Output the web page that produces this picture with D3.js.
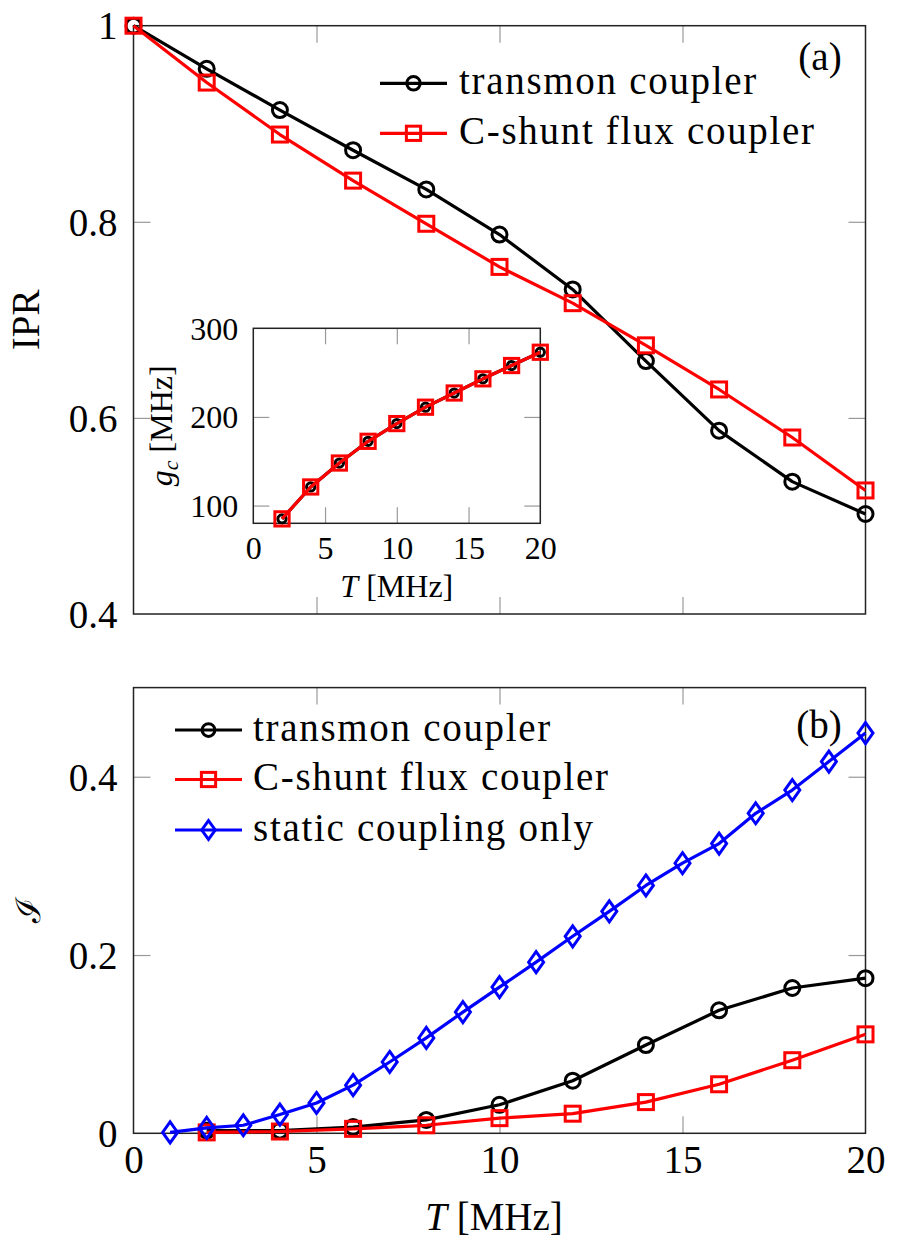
<!DOCTYPE html>
<html><head><meta charset="utf-8">
<script src="https://cdn.jsdelivr.net/npm/d3@7"></script>
<style>
html,body{margin:0;padding:0;background:#fff;}
svg{display:block;}
text{font-family:"Liberation Serif","Times New Roman",serif;fill:#000;}
</style></head>
<body>
<svg id="chart" width="899" height="1255"></svg>
<script>
// ---------- DATA ----------
const tA = [0,2,4,6,8,10,12,14,16,18,20];
const iprTransmon = [1.0,0.956,0.914,0.873,0.833,0.787,0.731,0.658,0.587,0.535,0.502];
const iprCshunt   = [1.0,0.942,0.889,0.842,0.798,0.754,0.717,0.674,0.629,0.580,0.526];

const tInset = [2,4,6,8,10,12,14,16,18,20];
const gcTransmon = [85,121,148,172.5,192.5,211,227,243,258,273];
const gcCshunt   = [85,121,148,172.5,192.5,211,227,243,258,273];

const tB = [2,4,6,8,10,12,14,16,18,20];
const infTransmon = [0.003,0.003,0.007,0.015,0.032,0.059,0.099,0.138,0.163,0.174];
const infCshunt   = [0.001,0.002,0.005,0.009,0.017,0.022,0.035,0.055,0.082,0.111];
const tStatic = [1,2,3,4,5,6,7,8,9,10,11,12,13,14,15,16,17,18,19,20];
const infStatic = [0.001,0.006,0.009,0.021,0.034,0.054,0.080,0.107,0.136,0.164,0.192,0.221,0.249,0.278,0.303,0.325,0.359,0.385,0.417,0.449];

const xTicks = [0,5,10,15,20];
const yTicksA = [0.4,0.6,0.8,1];
const yTicksB = [0,0.2,0.4];
const xTicksInset = [0,5,10,15,20];
const yTicksInset = [100,200,300];

const legendA = ["transmon coupler","C-shunt flux coupler"];
const legendB = ["transmon coupler","C-shunt flux coupler","static coupling only"];
const colors = {transmon:"#000000", cshunt:"#ff0000", stat:"#0000ff"};

// ---------- SETUP ----------
const svg = d3.select("#chart");
const FS = 39, FSI = 32;
const LW = 3.2, MW = 3;

const xA = d3.scaleLinear().domain([0,20]).range([133.5,865.5]);
const yA = d3.scaleLinear().domain([0.4,1]).range([614,25.7]);
const xB = d3.scaleLinear().domain([0,20]).range([133.5,865.5]);
const yB = d3.scaleLinear().domain([0,0.5]).range([1133.3,687.6]);
const xI = d3.scaleLinear().domain([0,20]).range([253.3,540.3]);
const yI = d3.scaleLinear().domain([80,300]).range([523.3,328.3]);

function fmt(v){ return v===0?"0":(v===1?"1":d3.format("")(v)); }

function frame(g, x, y, opts){
  const [x0,x1] = x.range(), [y0,y1] = y.range();
  const tl = opts.tickLen;
  if(opts.fill) g.append("rect").attr("x",x0).attr("y",y1).attr("width",x1-x0).attr("height",y0-y1).attr("fill","#fff");
  const bx = g.append("g").attr("transform",`translate(0,${y0})`)
    .call(d3.axisBottom(x).tickValues(opts.xt).tickSizeInner(-tl).tickSizeOuter(0).tickPadding(0)
      .tickFormat(opts.xLabels? fmt : ""));
  const tx = g.append("g").attr("transform",`translate(0,${y1})`)
    .call(d3.axisTop(x).tickValues(opts.xt).tickSizeInner(-tl).tickSizeOuter(0).tickFormat(""));
  const ly = g.append("g").attr("transform",`translate(${x0},0)`)
    .call(d3.axisLeft(y).tickValues(opts.yt).tickSizeInner(-tl).tickSizeOuter(0).tickPadding(opts.yPad).tickFormat(fmt));
  const ry = g.append("g").attr("transform",`translate(${x1},0)`)
    .call(d3.axisRight(y).tickValues(opts.yt).tickSizeInner(-tl).tickSizeOuter(0).tickFormat(""));
  [bx,tx,ly,ry].forEach(a=>{
    a.select(".domain").remove();
    a.selectAll(".tick line").attr("stroke","#999").attr("stroke-width",1.2);
    a.selectAll(".tick text").attr("font-family",'"Liberation Serif",serif').attr("font-size",opts.fs).attr("fill","#000");
  });
  [bx,tx].forEach(a=>a.selectAll(".tick").filter(d=>d===x.domain()[0]||d===x.domain()[1]).select("line").remove());
  [ly,ry].forEach(a=>a.selectAll(".tick").filter(d=>d===y.domain()[0]||d===y.domain()[1]).select("line").remove());
  bx.selectAll(".tick text").attr("y",opts.xLabY).attr("dy",null);
  ly.selectAll(".tick text").attr("dy","0.34em");
  g.append("rect").attr("x",x0).attr("y",y1).attr("width",x1-x0).attr("height",y0-y1)
    .attr("fill","none").attr("stroke","#222").attr("stroke-width",1.5);
}

function marker(g, type, cx, cy, color, s){
  s = s||1;
  if(type==="circle"){
    g.append("circle").attr("cx",cx).attr("cy",cy).attr("r",7.5*s)
      .attr("fill","none").attr("stroke",color).attr("stroke-width",MW);
  } else if(type==="square"){
    const h=7.5*s;
    g.append("rect").attr("x",cx-h).attr("y",cy-h).attr("width",2*h).attr("height",2*h)
      .attr("fill","none").attr("stroke",color).attr("stroke-width",MW);
  } else {
    const w=7.5*s, hh=10.5*s;
    g.append("path").attr("d",`M${cx},${cy-hh}L${cx+w},${cy}L${cx},${cy+hh}L${cx-w},${cy}Z`)
      .attr("fill","none").attr("stroke",color).attr("stroke-width",MW);
  }
}

function series(g, xs, ys, x, y, color, type, s){
  const pts = xs.map((t,i)=>[x(t), y(ys[i])]);
  g.append("path").attr("d",d3.line()(pts)).attr("fill","none")
    .attr("stroke",color).attr("stroke-width",LW).attr("stroke-linejoin","round");
  pts.forEach(p=>marker(g,type,p[0],p[1],color,s));
}

function legend(g, items, x0, yRows, textX){
  items.forEach((it,i)=>{
    const yy = yRows[i];
    g.append("line").attr("x1",x0).attr("x2",x0+67).attr("y1",yy).attr("y2",yy)
      .attr("stroke",it.color).attr("stroke-width",LW);
    marker(g,it.type,x0+33.5,yy,it.color,it.s||1);
    g.append("text").attr("x",textX).attr("y",yy+10.5).attr("font-size",FS)
      .attr("letter-spacing","1.7px").text(it.label);
  });
}

// ---------- PANEL (a) ----------
const gA = svg.append("g");
frame(gA, xA, yA, {xt:xTicks, yt:yTicksA, tickLen:17, xLabels:false, yPad:16, fs:FS, xLabY:0});
series(gA, tA, iprTransmon, xA, yA, colors.transmon, "circle");
series(gA, tA, iprCshunt, xA, yA, colors.cshunt, "square");
legend(gA, [
  {label:legendA[0], color:colors.transmon, type:"circle", s:0.9},
  {label:legendA[1], color:colors.cshunt, type:"square", s:0.95}
], 380, [83.3,133.3], 459);
gA.append("text").attr("x",820).attr("y",70).attr("text-anchor","middle").attr("font-size",FS).text("(a)");
gA.append("text").attr("transform",`translate(39,${(yA.range()[0]+yA.range()[1])/2}) rotate(-90)`)
  .attr("text-anchor","middle").attr("font-size",FS).text("IPR");

// ---------- INSET ----------
const gI = svg.append("g");
frame(gI, xI, yI, {xt:xTicksInset, yt:yTicksInset, tickLen:16, xLabels:true, yPad:15, fs:FSI, xLabY:36, fill:true});
series(gI, tInset, gcTransmon, xI, yI, colors.transmon, "circle", 0.55);
series(gI, tInset, gcCshunt, xI, yI, colors.cshunt, "square", 0.95);
const iLab = gI.append("text").attr("x",(xI.range()[0]+xI.range()[1])/2).attr("y",597).attr("text-anchor","middle").attr("font-size",FSI);
iLab.append("tspan").attr("font-style","italic").text("T");
iLab.append("tspan").text(" [MHz]");
const gLab = gI.append("text").attr("transform",`translate(172,${(yI.range()[0]+yI.range()[1])/2}) rotate(-90)`)
  .attr("text-anchor","middle").attr("font-size",FSI);
gLab.append("tspan").attr("font-style","italic").text("g");
gLab.append("tspan").attr("font-style","italic").attr("font-size",22).attr("dy",6).text("c");
gLab.append("tspan").attr("dy",-6).text("  [MHz]");

// ---------- PANEL (b) ----------
const gB = svg.append("g");
frame(gB, xB, yB, {xt:xTicks, yt:yTicksB, tickLen:17, xLabels:true, yPad:16, fs:FS, xLabY:40});
series(gB, tB, infTransmon, xB, yB, colors.transmon, "circle");
series(gB, tB, infCshunt, xB, yB, colors.cshunt, "square");
series(gB, tStatic, infStatic, xB, yB, colors.stat, "diamond");
legend(gB, [
  {label:legendB[0], color:colors.transmon, type:"circle", s:0.85},
  {label:legendB[1], color:colors.cshunt, type:"square", s:0.95},
  {label:legendB[2], color:colors.stat, type:"diamond", s:0.9}
], 175, [730,779.5,830], 253);
gB.append("text").attr("x",819).attr("y",738).attr("text-anchor","middle").attr("font-size",FS).text("(b)");
gB.append("text").attr("transform",`translate(40,${(yB.range()[0]+yB.range()[1])/2}) rotate(-90)`)
  .attr("text-anchor","middle").attr("font-family",'"DejaVu Serif","DejaVu Sans",serif').attr("font-size",34).text("ℐ");
const bLab = gB.append("text").attr("x",494).attr("y",1230).attr("text-anchor","middle").attr("font-size",FS);
bLab.append("tspan").attr("font-style","italic").text("T");
bLab.append("tspan").text(" [MHz]");
</script>
</body></html>
